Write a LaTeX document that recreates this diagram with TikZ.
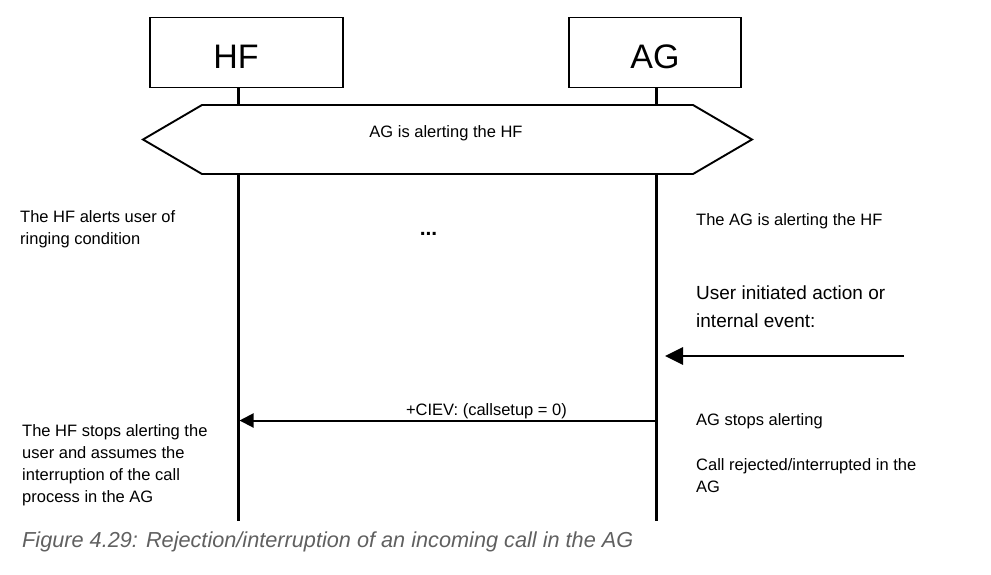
\documentclass[tikz,border=0pt]{standalone}
\usepackage{fontspec}
\setmainfont{Liberation Sans}
\usetikzlibrary{arrows.meta}
\definecolor{capgray}{RGB}{96,96,96}
\tikzset{
  entity/.style={draw, line width=1.2pt, minimum height=70pt, inner sep=0pt},
  lifeline/.style={line width=2.4pt},
  note/.style={anchor=base west, inner sep=0pt, align=left, font=\fontsize{16.5}{22}\selectfont},
  bignote/.style={anchor=base west, inner sep=0pt, align=left, font=\fontsize{19}{28}\selectfont},
  msg/.style={line width=2pt, -{Triangle[length=14pt,width=14pt]}},
  bigmsg/.style={line width=2.8pt, -{Triangle[length=18pt,width=17pt]}},
}
\begin{document}
\begin{tikzpicture}[x=1pt,y=-1pt]
\useasboundingbox (0,0) rectangle (991,574);
% entities
\node[entity, minimum width=193pt] (hf) at (246.5,52.5) {};
\node[entity, minimum width=172pt] (ag) at (655,52.5) {};
\node[anchor=base, inner sep=0pt, font=\fontsize{34}{40}\selectfont] (hft) at (236,68) {HF};
\node[anchor=base, inner sep=0pt, font=\fontsize{34}{40}\selectfont] (agt) at (655,68) {AG};
% lifelines
\coordinate (hfx) at (238.5,87);
\coordinate (agx) at (656.5,87);
\coordinate (hfend) at (238.5,521);
\coordinate (agend) at (656.5,521);
\draw[lifeline] (hf.south -| hfx) -- (hfend);
\draw[lifeline] (ag.south -| agx) -- (agend);
% hexagon condition
\draw[line width=1.9pt, fill=white] (143,139.5) -- (202,105) -- (693,105) -- (752,139.5) -- (693,174) -- (202,174) -- cycle;
\node[anchor=base, inner sep=0pt, font=\fontsize{16.5}{20}\selectfont] (cond) at (446,137) {AG is alerting the HF};
% dots
\node[anchor=base, inner sep=0pt, font=\fontsize{21}{24}\selectfont\bfseries] (dots) at (428.5,235) {...};
% notes (base anchor = baseline of last line)
\node[note] (n1) at (20,244) {The HF alerts user of\\ringing condition};
\node[note] (n2) at (696,225) {The AG is alerting the HF};
\node[bignote] (n3) at (696,327) {User initiated action or\\internal event:};
\node[note] (n4) at (696,425) {AG stops alerting};
\node[note] (n5) at (696,492) {Call rejected/interrupted in the\\AG};
\node[note] (n6) at (22,502) {The HF stops alerting the\\user and assumes the\\interruption of the call\\process in the AG};
% arrows
\coordinate (evstart) at (904,356);
\coordinate (evend) at (665,356);
\draw[bigmsg] (evstart) -- (evend);
\coordinate (ciag) at (656.5,420.5);
\coordinate (cihf) at (239.5,420.5);
\draw[msg] (ciag) -- (cihf);
\node[anchor=base, inner sep=0pt, font=\fontsize{16.5}{20}\selectfont] (ciev) at (486.5,415) {+CIEV: (callsetup = 0)};
% caption
\node[anchor=base west, inner sep=0pt, text=capgray, font=\fontsize{21.7}{26}\selectfont\itshape] (cap) at (22,547.5) {Figure 4.29: Rejection/interruption of an incoming call in the AG};
\end{tikzpicture}
\end{document}
